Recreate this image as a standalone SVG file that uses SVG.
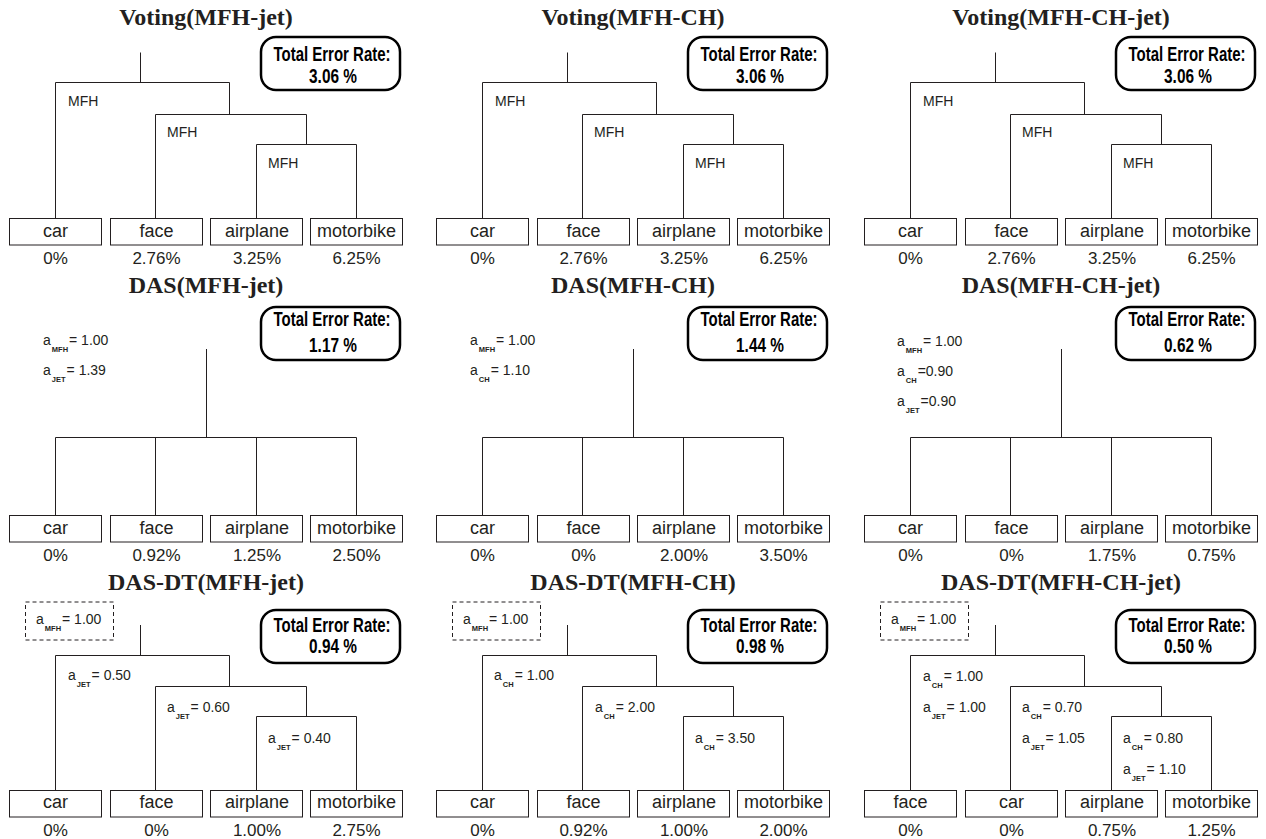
<svg xmlns="http://www.w3.org/2000/svg" xmlns:xlink="http://www.w3.org/1999/xlink" width="1266" height="839" viewBox="0 0 1266 839">
<style>
.t{font-family:"Liberation Serif","Times New Roman",serif;font-weight:bold;font-size:24px;fill:#231f20;text-anchor:middle}
.leaf rect{fill:#fff;stroke:#231f20;stroke-width:1}
.lt{font-family:"Liberation Sans",Arial,sans-serif;font-size:18px;fill:#231f20;text-anchor:middle}
.pc{font-family:"Liberation Sans",Arial,sans-serif;font-size:17px;fill:#231f20;text-anchor:middle}
.eb rect{fill:#fff;stroke:#000;stroke-width:2.5}
.et{font-family:"Liberation Sans",Arial,sans-serif;font-weight:bold;font-size:20px;fill:#000;text-anchor:middle}
.lb{font-family:"Liberation Sans",Arial,sans-serif;font-size:14px;fill:#231f20}
.sub{font-size:7.5px;font-weight:bold}
.dash{fill:none;stroke:#231f20;stroke-width:1;stroke-dasharray:4 3}
.con{fill:none;stroke:#231f20;stroke-width:1}
</style>
<defs>
<path id="t1" d="M140.5 52.5V82.5M55.5 82.5H229.5M55.5 82.5V218.5M229.5 82.5V114.5M155.5 114.5H306.5M155.5 114.5V218.5M306.5 114.5V144.5M256.5 144.5H356.5M256.5 144.5V218.5M356.5 144.5V218.5"/>
<path id="t2" d="M206.5 349V437.5M55.5 437.5H356.5M55.5 437.5V515.5M155.5 437.5V515.5M256.5 437.5V515.5M356.5 437.5V515.5"/>
<path id="t3" d="M140.5 625V655.5M55.5 655.5H229.5M55.5 655.5V790.5M229.5 655.5V686.5M155.5 686.5H306.5M155.5 686.5V790.5M306.5 686.5V716.5M256.5 716.5H356.5M256.5 716.5V790.5M356.5 716.5V790.5"/>
</defs>
<rect width="1266" height="839" fill="#fff"/>

<g id="connectors" class="con">
<use xlink:href="#t1"/>
<use xlink:href="#t1" transform="translate(427,0)"/>
<use xlink:href="#t1" transform="translate(855,0)"/>
<use xlink:href="#t2"/>
<use xlink:href="#t2" transform="translate(427,0)"/>
<use xlink:href="#t2" transform="translate(855,0)"/>
<use xlink:href="#t3"/>
<use xlink:href="#t3" transform="translate(427,0)"/>
<use xlink:href="#t3" transform="translate(855,0)"/>
</g>

<!-- Row 1 -->
<g id="r1c1">
<text class="t" x="206" y="25">Voting(MFH-jet)</text>
<g id="r1c1-err" class="eb"><rect x="261" y="37" width="139" height="53" rx="15"/><text class="et" transform="translate(332,61) scale(0.75,1)">Total Error Rate:</text><text class="et" transform="translate(333,82.5) scale(0.77,1)">3.06 %</text></g>
<text class="lb" x="68" y="106">MFH</text><text class="lb" x="167" y="137">MFH</text><text class="lb" x="268" y="168">MFH</text>
<g id="r1c1-car" class="leaf"><rect x="9.5" y="218.5" width="92" height="26.5"/><text class="lt" x="55.5" y="236.7">car</text><text class="pc" x="55.5" y="264.3">0%</text></g>
<g id="r1c1-face" class="leaf"><rect x="110.5" y="218.5" width="92" height="26.5"/><text class="lt" x="156.5" y="236.7">face</text><text class="pc" x="156.5" y="264.3">2.76%</text></g>
<g id="r1c1-airplane" class="leaf"><rect x="210.5" y="218.5" width="92" height="26.5"/><text class="lt" x="257" y="236.7">airplane</text><text class="pc" x="257" y="264.3">3.25%</text></g>
<g id="r1c1-motorbike" class="leaf"><rect x="310.5" y="218.5" width="92" height="26.5"/><text class="lt" x="356.5" y="236.7">motorbike</text><text class="pc" x="356.5" y="264.3">6.25%</text></g>
</g>

<g id="r1c2" transform="translate(427,0)">
<text class="t" x="206" y="25">Voting(MFH-CH)</text>
<g id="r1c2-err" class="eb"><rect x="261" y="37" width="139" height="53" rx="15"/><text class="et" transform="translate(332,61) scale(0.75,1)">Total Error Rate:</text><text class="et" transform="translate(333,82.5) scale(0.77,1)">3.06 %</text></g>
<text class="lb" x="68" y="106">MFH</text><text class="lb" x="167" y="137">MFH</text><text class="lb" x="268" y="168">MFH</text>
<g id="r1c2-car" class="leaf"><rect x="9.5" y="218.5" width="92" height="26.5"/><text class="lt" x="55.5" y="236.7">car</text><text class="pc" x="55.5" y="264.3">0%</text></g>
<g id="r1c2-face" class="leaf"><rect x="110.5" y="218.5" width="92" height="26.5"/><text class="lt" x="156.5" y="236.7">face</text><text class="pc" x="156.5" y="264.3">2.76%</text></g>
<g id="r1c2-airplane" class="leaf"><rect x="210.5" y="218.5" width="92" height="26.5"/><text class="lt" x="257" y="236.7">airplane</text><text class="pc" x="257" y="264.3">3.25%</text></g>
<g id="r1c2-motorbike" class="leaf"><rect x="310.5" y="218.5" width="92" height="26.5"/><text class="lt" x="356.5" y="236.7">motorbike</text><text class="pc" x="356.5" y="264.3">6.25%</text></g>
</g>

<g id="r1c3" transform="translate(855,0)">
<text class="t" x="206" y="25">Voting(MFH-CH-jet)</text>
<g id="r1c3-err" class="eb"><rect x="261" y="37" width="139" height="53" rx="15"/><text class="et" transform="translate(332,61) scale(0.75,1)">Total Error Rate:</text><text class="et" transform="translate(333,82.5) scale(0.77,1)">3.06 %</text></g>
<text class="lb" x="68" y="106">MFH</text><text class="lb" x="167" y="137">MFH</text><text class="lb" x="268" y="168">MFH</text>
<g id="r1c3-car" class="leaf"><rect x="9.5" y="218.5" width="92" height="26.5"/><text class="lt" x="55.5" y="236.7">car</text><text class="pc" x="55.5" y="264.3">0%</text></g>
<g id="r1c3-face" class="leaf"><rect x="110.5" y="218.5" width="92" height="26.5"/><text class="lt" x="156.5" y="236.7">face</text><text class="pc" x="156.5" y="264.3">2.76%</text></g>
<g id="r1c3-airplane" class="leaf"><rect x="210.5" y="218.5" width="92" height="26.5"/><text class="lt" x="257" y="236.7">airplane</text><text class="pc" x="257" y="264.3">3.25%</text></g>
<g id="r1c3-motorbike" class="leaf"><rect x="310.5" y="218.5" width="92" height="26.5"/><text class="lt" x="356.5" y="236.7">motorbike</text><text class="pc" x="356.5" y="264.3">6.25%</text></g>
</g>

<!-- Row 2 -->
<g id="r2c1">
<text class="t" x="206" y="292.7">DAS(MFH-jet)</text>
<g id="r2c1-err" class="eb"><rect x="261" y="307" width="139" height="53" rx="15"/><text class="et" transform="translate(332,325.5) scale(0.75,1)">Total Error Rate:</text><text class="et" transform="translate(333,351.5) scale(0.77,1)">1.17 %</text></g>
<text class="lb" x="43" y="345">a<tspan class="sub" dx="1" dy="7">MFH</tspan><tspan dx="1" dy="-7">= 1.00</tspan></text>
<text class="lb" x="43" y="375">a<tspan class="sub" dx="1" dy="7">JET</tspan><tspan dx="1" dy="-7">= 1.39</tspan></text>
<g id="r2c1-car" class="leaf"><rect x="9.5" y="515.5" width="92" height="26.5"/><text class="lt" x="55.5" y="534.3">car</text><text class="pc" x="55.5" y="561">0%</text></g>
<g id="r2c1-face" class="leaf"><rect x="110.5" y="515.5" width="92" height="26.5"/><text class="lt" x="156.5" y="534.3">face</text><text class="pc" x="156.5" y="561">0.92%</text></g>
<g id="r2c1-airplane" class="leaf"><rect x="210.5" y="515.5" width="92" height="26.5"/><text class="lt" x="257" y="534.3">airplane</text><text class="pc" x="257" y="561">1.25%</text></g>
<g id="r2c1-motorbike" class="leaf"><rect x="310.5" y="515.5" width="92" height="26.5"/><text class="lt" x="356.5" y="534.3">motorbike</text><text class="pc" x="356.5" y="561">2.50%</text></g>
</g>

<g id="r2c2" transform="translate(427,0)">
<text class="t" x="206" y="292.7">DAS(MFH-CH)</text>
<g id="r2c2-err" class="eb"><rect x="261" y="307" width="139" height="53" rx="15"/><text class="et" transform="translate(332,325.5) scale(0.75,1)">Total Error Rate:</text><text class="et" transform="translate(333,351.5) scale(0.77,1)">1.44 %</text></g>
<text class="lb" x="43" y="345">a<tspan class="sub" dx="1" dy="7">MFH</tspan><tspan dx="1" dy="-7">= 1.00</tspan></text>
<text class="lb" x="43" y="375">a<tspan class="sub" dx="1" dy="7">CH</tspan><tspan dx="1" dy="-7">= 1.10</tspan></text>
<g id="r2c2-car" class="leaf"><rect x="9.5" y="515.5" width="92" height="26.5"/><text class="lt" x="55.5" y="534.3">car</text><text class="pc" x="55.5" y="561">0%</text></g>
<g id="r2c2-face" class="leaf"><rect x="110.5" y="515.5" width="92" height="26.5"/><text class="lt" x="156.5" y="534.3">face</text><text class="pc" x="156.5" y="561">0%</text></g>
<g id="r2c2-airplane" class="leaf"><rect x="210.5" y="515.5" width="92" height="26.5"/><text class="lt" x="257" y="534.3">airplane</text><text class="pc" x="257" y="561">2.00%</text></g>
<g id="r2c2-motorbike" class="leaf"><rect x="310.5" y="515.5" width="92" height="26.5"/><text class="lt" x="356.5" y="534.3">motorbike</text><text class="pc" x="356.5" y="561">3.50%</text></g>
</g>

<g id="r2c3" transform="translate(855,0)">
<text class="t" x="206" y="292.7">DAS(MFH-CH-jet)</text>
<g id="r2c3-err" class="eb"><rect x="261" y="307" width="139" height="53" rx="15"/><text class="et" transform="translate(332,325.5) scale(0.75,1)">Total Error Rate:</text><text class="et" transform="translate(333,351.5) scale(0.77,1)">0.62 %</text></g>
<text class="lb" x="42" y="346">a<tspan class="sub" dx="1" dy="7">MFH</tspan><tspan dx="1" dy="-7">= 1.00</tspan></text>
<text class="lb" x="42" y="376">a<tspan class="sub" dx="1" dy="7">CH</tspan><tspan dx="1" dy="-7">=0.90</tspan></text>
<text class="lb" x="42" y="406">a<tspan class="sub" dx="1" dy="7">JET</tspan><tspan dx="1" dy="-7">=0.90</tspan></text>
<g id="r2c3-car" class="leaf"><rect x="9.5" y="515.5" width="92" height="26.5"/><text class="lt" x="55.5" y="534.3">car</text><text class="pc" x="55.5" y="561">0%</text></g>
<g id="r2c3-face" class="leaf"><rect x="110.5" y="515.5" width="92" height="26.5"/><text class="lt" x="156.5" y="534.3">face</text><text class="pc" x="156.5" y="561">0%</text></g>
<g id="r2c3-airplane" class="leaf"><rect x="210.5" y="515.5" width="92" height="26.5"/><text class="lt" x="257" y="534.3">airplane</text><text class="pc" x="257" y="561">1.75%</text></g>
<g id="r2c3-motorbike" class="leaf"><rect x="310.5" y="515.5" width="92" height="26.5"/><text class="lt" x="356.5" y="534.3">motorbike</text><text class="pc" x="356.5" y="561">0.75%</text></g>
</g>

<!-- Row 3 -->
<g id="r3c1">
<text class="t" x="206" y="590">DAS-DT(MFH-jet)</text>
<g id="r3c1-err" class="eb"><rect x="261" y="610" width="139" height="53" rx="15"/><text class="et" transform="translate(332,631.7) scale(0.75,1)">Total Error Rate:</text><text class="et" transform="translate(333,653.3) scale(0.77,1)">0.94 %</text></g>
<g id="r3c1-root"><rect class="dash" x="25.5" y="602" width="88" height="38"/><text class="lb" x="36" y="624">a<tspan class="sub" dx="1" dy="7">MFH</tspan><tspan dx="1" dy="-7">= 1.00</tspan></text></g>
<text class="lb" x="68" y="680">a<tspan class="sub" dx="1" dy="7">JET</tspan><tspan dx="1" dy="-7">= 0.50</tspan></text>
<text class="lb" x="167" y="711.7">a<tspan class="sub" dx="1" dy="7">JET</tspan><tspan dx="1" dy="-7">= 0.60</tspan></text>
<text class="lb" x="268" y="742.7">a<tspan class="sub" dx="1" dy="7">JET</tspan><tspan dx="1" dy="-7">= 0.40</tspan></text>
<g id="r3c1-car" class="leaf"><rect x="9.5" y="790.5" width="92" height="26.5"/><text class="lt" x="55.5" y="808.3">car</text><text class="pc" x="55.5" y="835.7">0%</text></g>
<g id="r3c1-face" class="leaf"><rect x="110.5" y="790.5" width="92" height="26.5"/><text class="lt" x="156.5" y="808.3">face</text><text class="pc" x="156.5" y="835.7">0%</text></g>
<g id="r3c1-airplane" class="leaf"><rect x="210.5" y="790.5" width="92" height="26.5"/><text class="lt" x="257" y="808.3">airplane</text><text class="pc" x="257" y="835.7">1.00%</text></g>
<g id="r3c1-motorbike" class="leaf"><rect x="310.5" y="790.5" width="92" height="26.5"/><text class="lt" x="356.5" y="808.3">motorbike</text><text class="pc" x="356.5" y="835.7">2.75%</text></g>
</g>

<g id="r3c2" transform="translate(427,0)">
<text class="t" x="206" y="590">DAS-DT(MFH-CH)</text>
<g id="r3c2-err" class="eb"><rect x="261" y="610" width="139" height="53" rx="15"/><text class="et" transform="translate(332,631.7) scale(0.75,1)">Total Error Rate:</text><text class="et" transform="translate(333,653.3) scale(0.77,1)">0.98 %</text></g>
<g id="r3c2-root"><rect class="dash" x="25.5" y="602" width="88" height="38"/><text class="lb" x="36" y="624">a<tspan class="sub" dx="1" dy="7">MFH</tspan><tspan dx="1" dy="-7">= 1.00</tspan></text></g>
<text class="lb" x="67" y="680">a<tspan class="sub" dx="1" dy="7">CH</tspan><tspan dx="1" dy="-7">= 1.00</tspan></text>
<text class="lb" x="168" y="711.7">a<tspan class="sub" dx="1" dy="7">CH</tspan><tspan dx="1" dy="-7">= 2.00</tspan></text>
<text class="lb" x="268" y="742.7">a<tspan class="sub" dx="1" dy="7">CH</tspan><tspan dx="1" dy="-7">= 3.50</tspan></text>
<g id="r3c2-car" class="leaf"><rect x="9.5" y="790.5" width="92" height="26.5"/><text class="lt" x="55.5" y="808.3">car</text><text class="pc" x="55.5" y="835.7">0%</text></g>
<g id="r3c2-face" class="leaf"><rect x="110.5" y="790.5" width="92" height="26.5"/><text class="lt" x="156.5" y="808.3">face</text><text class="pc" x="156.5" y="835.7">0.92%</text></g>
<g id="r3c2-airplane" class="leaf"><rect x="210.5" y="790.5" width="92" height="26.5"/><text class="lt" x="257" y="808.3">airplane</text><text class="pc" x="257" y="835.7">1.00%</text></g>
<g id="r3c2-motorbike" class="leaf"><rect x="310.5" y="790.5" width="92" height="26.5"/><text class="lt" x="356.5" y="808.3">motorbike</text><text class="pc" x="356.5" y="835.7">2.00%</text></g>
</g>

<g id="r3c3" transform="translate(855,0)">
<text class="t" x="206" y="590">DAS-DT(MFH-CH-jet)</text>
<g id="r3c3-err" class="eb"><rect x="261" y="610" width="139" height="53" rx="15"/><text class="et" transform="translate(332,631.7) scale(0.75,1)">Total Error Rate:</text><text class="et" transform="translate(333,653.3) scale(0.77,1)">0.50 %</text></g>
<g id="r3c3-root"><rect class="dash" x="25.5" y="602" width="88" height="38"/><text class="lb" x="36" y="624">a<tspan class="sub" dx="1" dy="7">MFH</tspan><tspan dx="1" dy="-7">= 1.00</tspan></text></g>
<text class="lb" x="68" y="680.7">a<tspan class="sub" dx="1" dy="7">CH</tspan><tspan dx="1" dy="-7">= 1.00</tspan></text>
<text class="lb" x="68" y="711.7">a<tspan class="sub" dx="1" dy="7">JET</tspan><tspan dx="1" dy="-7">= 1.00</tspan></text>
<text class="lb" x="167" y="711.7">a<tspan class="sub" dx="1" dy="7">CH</tspan><tspan dx="1" dy="-7">= 0.70</tspan></text>
<text class="lb" x="167" y="742.7">a<tspan class="sub" dx="1" dy="7">JET</tspan><tspan dx="1" dy="-7">= 1.05</tspan></text>
<text class="lb" x="268" y="742.7">a<tspan class="sub" dx="1" dy="7">CH</tspan><tspan dx="1" dy="-7">= 0.80</tspan></text>
<text class="lb" x="268" y="774">a<tspan class="sub" dx="1" dy="7">JET</tspan><tspan dx="1" dy="-7">= 1.10</tspan></text>
<g id="r3c3-face" class="leaf"><rect x="9.5" y="790.5" width="92" height="26.5"/><text class="lt" x="55.5" y="808.3">face</text><text class="pc" x="55.5" y="835.7">0%</text></g>
<g id="r3c3-car" class="leaf"><rect x="110.5" y="790.5" width="92" height="26.5"/><text class="lt" x="156.5" y="808.3">car</text><text class="pc" x="156.5" y="835.7">0%</text></g>
<g id="r3c3-airplane" class="leaf"><rect x="210.5" y="790.5" width="92" height="26.5"/><text class="lt" x="257" y="808.3">airplane</text><text class="pc" x="257" y="835.7">0.75%</text></g>
<g id="r3c3-motorbike" class="leaf"><rect x="310.5" y="790.5" width="92" height="26.5"/><text class="lt" x="356.5" y="808.3">motorbike</text><text class="pc" x="356.5" y="835.7">1.25%</text></g>
</g>
</svg>
